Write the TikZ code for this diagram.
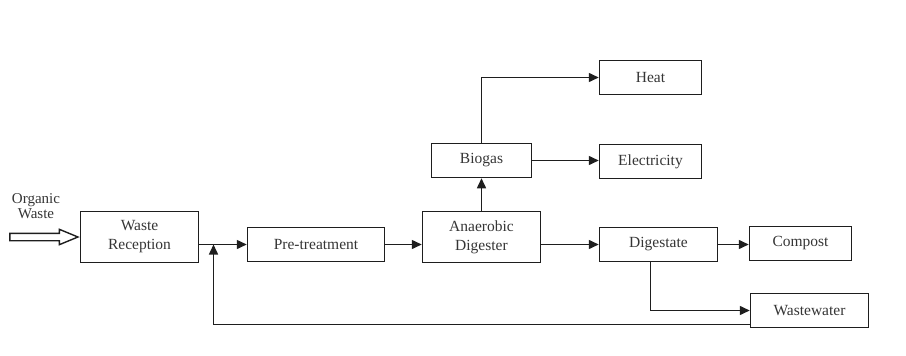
\documentclass[tikz,border=0pt]{standalone}
\usepackage{fontspec}
\setmainfont{Liberation Serif}
\usetikzlibrary{arrows.meta,positioning,shapes.arrows}
\definecolor{ink}{HTML}{1E1E1E}

\begin{document}
\begin{tikzpicture}[
    x=1pt, y=-1pt,
    box/.style={draw=ink, line width=1.5pt, minimum width=118pt, minimum height=34pt, align=center, inner sep=2pt, font=\fontsize{15.5}{19}\selectfont, text=ink!90},
    tall/.style={box, minimum height=51pt},
    small/.style={box, minimum width=102pt},
    arrow/.style={-{Triangle[length=10pt, width=9pt]}, line width=1.5pt, draw=ink}
]
\useasboundingbox (0,0) rectangle (906,356);
\node[tall] (reception) at (139.5,237) {Waste\\Reception};
\node[box, minimum width=137pt] (pretreat) at (316,244.5) {Pre-treatment};
\node[tall] (digester) at (481.5,237) {Anaerobic\\Digester};
\node[box, minimum width=100pt] (biogas) at (481.5,160.5) {Biogas};
\node[small] (heat) at (650.5,77.5) {Heat};
\node[small] (elec) at (650.5,161.5) {Electricity};
\node[box] (digestate) at (658.5,244.5) {Digestate};
\node[small] (compost) at (800.5,243.5) {Compost};
\node[box] (wastewater) at (809.5,310.5) {Wastewater};
\node[align=center, font=\fontsize{15}{15}\selectfont, text=ink!90] (organic) at (36,206) {Organic\\Waste};
% hollow inlet arrow
\node[single arrow, draw=ink, line width=1.4pt, inner sep=3pt, minimum height=68pt,
      single arrow head extend=4pt, single arrow tip angle=45, anchor=tip] (inlet) at (reception.west) {};
\coordinate (join) at (213.5,244.5);
% main line
\draw[arrow] (reception.east |- pretreat.west) -- (pretreat.west);
\draw[arrow] (pretreat) -- (digester.west |- pretreat);
\draw[arrow] (digester.north) -- (biogas.south);
\draw[arrow] (biogas.north) |- (heat.west);
\draw[arrow] (biogas.east) -- (elec.west |- biogas.east);
\draw[arrow] (digester.east |- digestate) -- (digestate);
\draw[arrow] (digestate.east) -- (compost.west |- digestate.east);
\draw[arrow] ([xshift=-8pt]digestate.south) |- (wastewater.west);
% recycle loop
\draw[arrow] ([yshift=-14pt]wastewater.west) -| (join);
\end{tikzpicture}
\end{document}
